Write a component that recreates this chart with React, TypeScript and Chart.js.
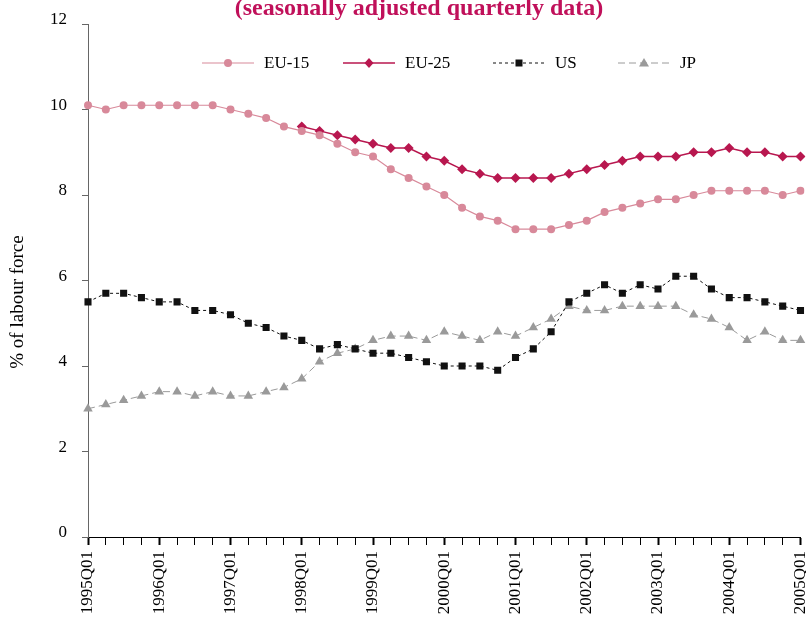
import React, { useEffect, useRef } from 'react';
import { Chart, registerables } from 'chart.js';

Chart.register(...registerables);

const years = [1995, 1996, 1997, 1998, 1999, 2000, 2001, 2002, 2003, 2004, 2005];
const quarters = ['Q01', 'Q02', 'Q03', 'Q04'];
const categories: string[] = [];
years.forEach((y) => quarters.forEach((q) => categories.push(`${y}${q}`)));
categories.length = 41; // 1995Q01 .. 2005Q01

const eu15 = [10.1, 10.0, 10.1, 10.1, 10.1, 10.1, 10.1, 10.1, 10.0, 9.9, 9.8, 9.6, 9.5, 9.4, 9.2, 9.0, 8.9, 8.6, 8.4, 8.2,
  8.0, 7.7, 7.5, 7.4, 7.2, 7.2, 7.2, 7.3, 7.4, 7.6, 7.7, 7.8, 7.9, 7.9, 8.0, 8.1, 8.1, 8.1, 8.1, 8.0, 8.1];
const eu25 = [null, null, null, null, null, null, null, null, null, null, null, null,
  9.6, 9.5, 9.4, 9.3, 9.2, 9.1, 9.1, 8.9, 8.8, 8.6, 8.5, 8.4, 8.4, 8.4, 8.4, 8.5, 8.6, 8.7, 8.8, 8.9, 8.9, 8.9,
  9.0, 9.0, 9.1, 9.0, 9.0, 8.9, 8.9];
const us = [5.5, 5.7, 5.7, 5.6, 5.5, 5.5, 5.3, 5.3, 5.2, 5.0, 4.9, 4.7, 4.6, 4.4, 4.5, 4.4, 4.3, 4.3, 4.2, 4.1,
  4.0, 4.0, 4.0, 3.9, 4.2, 4.4, 4.8, 5.5, 5.7, 5.9, 5.7, 5.9, 5.8, 6.1, 6.1, 5.8, 5.6, 5.6, 5.5, 5.4, 5.3];
const jp = [3.0, 3.1, 3.2, 3.3, 3.4, 3.4, 3.3, 3.4, 3.3, 3.3, 3.4, 3.5, 3.7, 4.1, 4.3, 4.4, 4.6, 4.7, 4.7, 4.6,
  4.8, 4.7, 4.6, 4.8, 4.7, 4.9, 5.1, 5.4, 5.3, 5.3, 5.4, 5.4, 5.4, 5.4, 5.2, 5.1, 4.9, 4.6, 4.8, 4.6, 4.6];

const yMin = 0;
const yMax = 12;
const yStep = 2;
const titleText = '(seasonally adjusted quarterly data)';
const yAxisTitle = '% of labour force';
const seriesNames = ['EU-15', 'EU-25', 'US', 'JP'];

const FONT = '"Liberation Serif", "Times New Roman", serif';
const C_EU15 = '#d8899a';
const C_EU25 = '#b8174f';
const C_US = '#111111';
const C_JP = '#9a9a9a';
const C_TITLE = '#c0105a';

const legendStarts = [202, 343, 493, 618];

function drawMarker(ctx: CanvasRenderingContext2D, style: string, x: number, y: number, color: string) {
  ctx.save();
  ctx.setLineDash([]);
  ctx.fillStyle = color;
  ctx.beginPath();
  if (style === 'circle') {
    ctx.arc(x, y, 4, 0, Math.PI * 2);
  } else if (style === 'rectRot') {
    ctx.moveTo(x, y - 5);
    ctx.lineTo(x + 4.5, y);
    ctx.lineTo(x, y + 5);
    ctx.lineTo(x - 4.5, y);
    ctx.closePath();
  } else if (style === 'rect') {
    ctx.rect(x - 3.5, y - 3.5, 7, 7);
  } else if (style === 'triangle') {
    ctx.moveTo(x, y - 5);
    ctx.lineTo(x + 5, y + 3.5);
    ctx.lineTo(x - 5, y + 3.5);
    ctx.closePath();
  }
  ctx.fill();
  ctx.restore();
}

const decorPlugin = {
  id: 'decor',
  afterDraw(chart: any) {
    const ctx: CanvasRenderingContext2D = chart.ctx;
    ctx.save();
    // title (partially cut at top)
    ctx.fillStyle = C_TITLE;
    ctx.font = `bold 24px ${FONT}`;
    ctx.textAlign = 'center';
    ctx.textBaseline = 'alphabetic';
    ctx.fillText(titleText, 419, 15);

    // y axis title
    ctx.save();
    ctx.translate(18, 302);
    ctx.rotate(-Math.PI / 2);
    ctx.fillStyle = '#000';
    ctx.font = `19px ${FONT}`;
    ctx.textAlign = 'center';
    ctx.textBaseline = 'middle';
    ctx.fillText(yAxisTitle, 0, 0);
    ctx.restore();

    // legend
    const ly = 63;
    chart.data.datasets.forEach((ds: any, i: number) => {
      const x0 = legendStarts[i];
      const len = 52;
      ctx.save();
      ctx.strokeStyle = ds.borderColor;
      ctx.lineWidth = ds.borderWidth;
      ctx.setLineDash(ds.borderDash || []);
      ctx.beginPath();
      ctx.moveTo(x0, ly);
      ctx.lineTo(x0 + len, ly);
      ctx.stroke();
      ctx.restore();
      drawMarker(ctx, ds.pointStyle, x0 + len / 2, ly, ds.borderColor);
      ctx.fillStyle = '#000';
      ctx.font = `17px ${FONT}`;
      ctx.textAlign = 'left';
      ctx.textBaseline = 'middle';
      ctx.fillText(ds.label, x0 + len + 10, ly + 1);
    });
    ctx.restore();
  },
};

export default function App() {
  const ref = useRef<HTMLCanvasElement>(null);
  useEffect(() => {
    if (!ref.current) return;
    const chart = new Chart(ref.current, {
      type: 'line',
      data: {
        labels: categories,
        datasets: [
          {
            label: seriesNames[0], data: eu15, borderColor: C_EU15, backgroundColor: C_EU15,
            borderWidth: 1.2, pointStyle: 'circle', pointRadius: 4, pointBorderWidth: 0,
            pointBackgroundColor: C_EU15, tension: 0,
          },
          {
            label: seriesNames[1], data: eu25, borderColor: C_EU25, backgroundColor: C_EU25,
            borderWidth: 1.5, pointStyle: 'rectRot', pointRadius: 5, pointBorderWidth: 0,
            pointBackgroundColor: C_EU25, tension: 0,
          },
          {
            label: seriesNames[2], data: us, borderColor: C_US, backgroundColor: C_US,
            borderWidth: 1, borderDash: [3, 3], pointStyle: 'rect', pointRadius: 5, pointBorderWidth: 0,
            pointBackgroundColor: C_US, tension: 0,
          },
          {
            label: seriesNames[3], data: jp, borderColor: C_JP, backgroundColor: C_JP,
            borderWidth: 1, borderDash: [7, 4], pointStyle: 'triangle', pointRadius: 5.5, pointBorderWidth: 0,
            pointBackgroundColor: C_JP, tension: 0,
          },
        ] as any,
      },
      options: {
        responsive: false,
        animation: false,
        events: [],
        layout: { padding: { top: 24, right: 1, bottom: 0, left: 0 } },
        plugins: {
          legend: { display: false },
          title: { display: false },
          tooltip: { enabled: false },
        },
        scales: {
          x: {
            type: 'category',
            offset: false,
            grid: {
              display: true,
              drawOnChartArea: false,
              drawTicks: true,
              tickLength: 8,
              tickColor: '#000',
              tickWidth: (c: any) => (c.index % 4 === 0 ? 2 : 1),
            },
            border: { display: true, color: '#000', width: 1 },
            ticks: {
              autoSkip: false,
              maxRotation: 90,
              minRotation: 90,
              padding: 6,
              color: '#000',
              font: { family: FONT, size: 17 },
              callback: (_v: any, i: number) => (i % 4 === 0 ? categories[i] : ''),
            },
            afterFit: (s: any) => {
              s.height = 82;
              s.paddingLeft = 0;
              s.paddingRight = 0;
            },
          },
          y: {
            min: yMin,
            max: yMax,
            grid: {
              display: true,
              drawOnChartArea: false,
              drawTicks: true,
              tickLength: 6,
              tickColor: '#666',
            },
            border: { display: true, color: '#666', width: 1 },
            ticks: {
              stepSize: yStep,
              padding: 15,
              labelOffset: -4,
              color: '#000',
              font: { family: FONT, size: 17 },
            },
            afterFit: (s: any) => {
              s.width = 88;
              s.paddingTop = 0;
              s.paddingBottom = 0;
            },
          },
        },
      } as any,
      plugins: [decorPlugin],
    });
    return () => chart.destroy();
  }, []);
  return (
    <div style={{ position: 'absolute', left: 0, top: 0, width: 806, height: 619, overflow: 'hidden', background: '#fff' }}>
      <canvas ref={ref} width={806} height={619} style={{ display: 'block' }} />
    </div>
  );
}
